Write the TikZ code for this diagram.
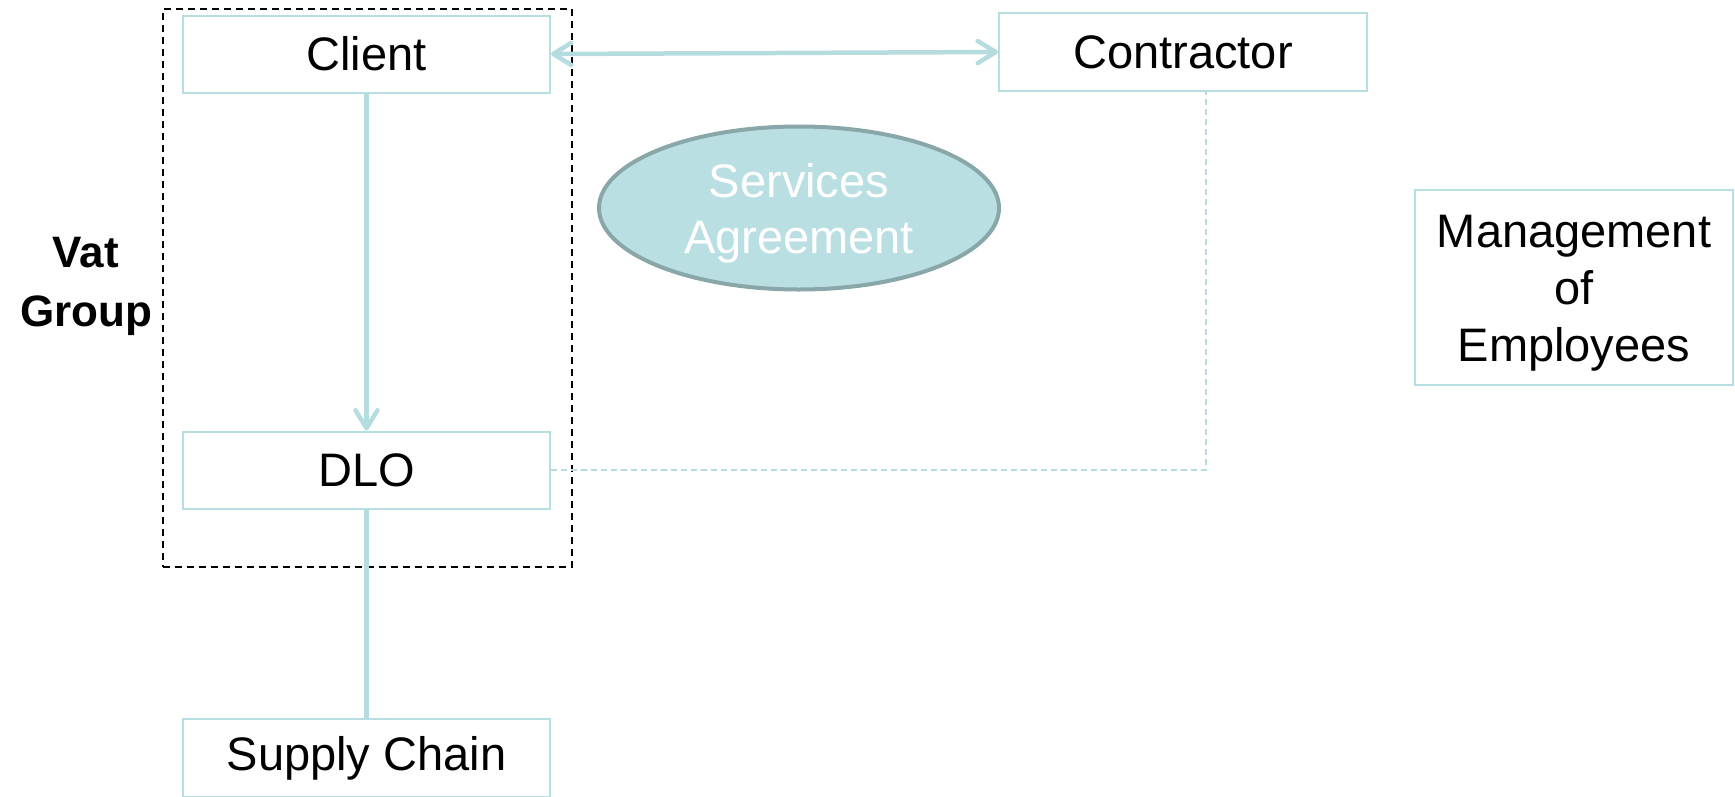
\documentclass[tikz,border=0pt]{standalone}
\usepackage{fontspec}
\setmainfont{Liberation Sans}
\usetikzlibrary{arrows.meta,shapes.geometric}
\definecolor{boxline}{HTML}{B7DEE1}
\definecolor{linkcol}{HTML}{B5DCDF}
\definecolor{ovalfill}{HTML}{B9DFE2}
\definecolor{ovalline}{HTML}{89A6A8}
\tikzset{
  every node/.style={font=\fontsize{47}{57}\selectfont},
  party/.style={draw=boxline, line width=2pt, fill=white, inner sep=0pt,
    minimum width=367pt, minimum height=77pt, align=center},
  link/.style={draw=linkcol, line width=4.5pt},
  tipstyle/.style={-{Straight Barb[length=18pt, width=22pt, line width=4.5pt, round]}},
  bothtips/.style={{Straight Barb[length=18pt, width=22pt, line width=4.5pt, round]}-{Straight Barb[length=18pt, width=22pt, line width=4.5pt, round]}},
  tie/.style={draw=linkcol, line width=2pt, dash pattern=on 6pt off 4pt},
  groupframe/.style={draw=black, line width=2pt, dash pattern=on 7pt off 5pt}
}
\begin{document}
\begin{tikzpicture}[x=1pt, y=-1pt]
\useasboundingbox (0,0) rectangle (1735,796);
\clip (0,0) rectangle (1735,796);

% boxes
\node[party] (client) at (366.5,54) {Client};
\node[party, minimum width=368pt, minimum height=78pt] (contractor) at (1183,52) {Contractor};
\node[party] (dlo) at (366.5,470) {DLO};
\node[party, minimum height=78pt] (supply) at (366.5,758) {Supply Chain};
\node[party, minimum width=318pt, minimum height=195pt] (mgmt) at (1574,287.5) {};
\node[align=center] (mgmttext) at (1574,293) {Management\\of\\Employees};

% agreement oval
\node[ellipse, draw=ovalline, fill=ovalfill, line width=4pt, inner sep=0pt,
  minimum width=400pt, minimum height=163pt] (agree) at (799,208) {};
\node[text=white, align=center, font=\fontsize{47}{56}\selectfont] (agreetext) at (799,213)
  {Services\\Agreement};

% VAT group frame and label
\node[groupframe, inner sep=0pt, minimum width=409pt, minimum height=558pt] (vat) at (367.5,288) {};
\node[font=\bfseries\fontsize{44}{59}\selectfont, align=center] (vatlabel) at (86,286) {Vat\\Group};

% connectors
\draw[link, bothtips] (client.east) -- (contractor.west);
\draw[link, tipstyle] (client.south) -- (dlo.north);
\draw[link] (dlo.south) -- (supply.north);
\coordinate (ctap) at ([xshift=23pt]contractor.south);
\draw[tie] (dlo.east) -| (ctap);
\end{tikzpicture}
\end{document}
